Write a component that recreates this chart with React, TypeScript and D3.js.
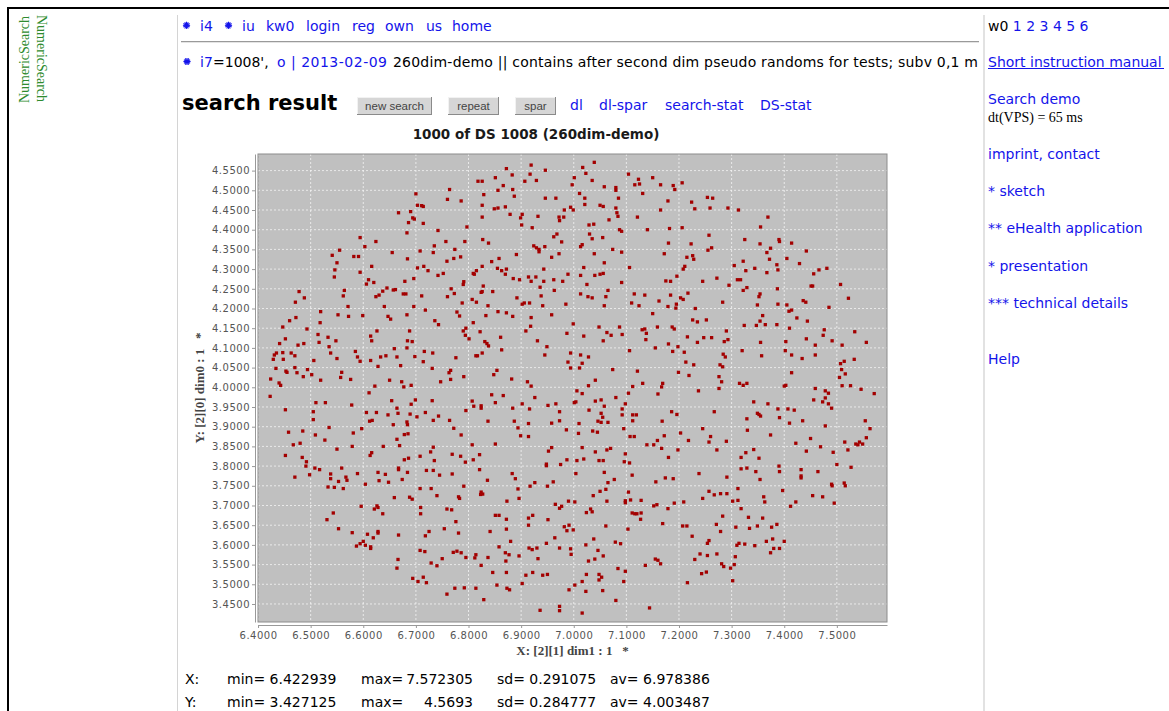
import { useEffect, useRef } from "react";
import * as d3 from "d3";

type Pt = [number, number];

const X_DOMAIN: [number, number] = [6.39994, 7.59529];
const Y_DOMAIN: [number, number] = [3.40428, 4.59215];
const X_TICKS = [6.4, 6.5, 6.6, 6.7, 6.8, 6.9, 7.0, 7.1, 7.2, 7.3, 7.4, 7.5];
const Y_TICKS = [
  3.45, 3.5, 3.55, 3.6, 3.65, 3.7, 3.75, 3.8, 3.85, 3.9, 3.95, 4.0,
  4.05, 4.1, 4.15, 4.2, 4.25, 4.3, 4.35, 4.4, 4.45, 4.5, 4.55,
];

// dots, by region of the plot
const dotsTopLeft: Pt[] = [
  [6.764,4.502],[6.760,4.477],[6.786,4.473],[6.700,4.491],[6.703,4.462],[6.711,4.461],[6.714,4.459],[6.667,4.443],[6.690,4.446],[6.694,4.430],
  [6.697,4.427],[6.686,4.418],[6.714,4.416],[6.797,4.407],[6.742,4.398],[6.683,4.392],[6.594,4.380],[6.624,4.370],[6.757,4.370],[6.793,4.370],
  [6.603,4.357],[6.555,4.348],[6.735,4.359],[6.708,4.346],[6.655,4.342],[6.733,4.342],[6.774,4.350],[6.541,4.335],[6.582,4.332],[6.591,4.332],
  [6.785,4.331],[6.772,4.327],[6.759,4.320],[6.550,4.316],[6.684,4.326],[6.616,4.307],[6.703,4.303],[6.715,4.307],[6.723,4.296],[6.546,4.298],
  [6.752,4.289],[6.742,4.284],[6.594,4.292],[6.545,4.280],[6.696,4.276],[6.610,4.273],[6.679,4.269],[6.606,4.262],[6.620,4.266],[6.791,4.268],
  [6.790,4.261],[6.767,4.250],[6.645,4.252],[6.661,4.248],[6.657,4.247],[6.564,4.246],[6.637,4.244],[6.478,4.243],[6.773,4.238],[6.676,4.237],
  [6.681,4.237],[6.630,4.234],[6.624,4.230],[6.562,4.232],[6.488,4.227],[6.711,4.232],[6.760,4.230],[6.471,4.216],[6.788,4.214],[6.571,4.205],
  [6.640,4.205],[6.696,4.205],[6.718,4.196],[6.519,4.192],[6.778,4.191],[6.783,4.181],[6.683,4.184],[6.552,4.184],[6.572,4.180],[6.599,4.182],
  [6.472,4.177],[6.647,4.180],[6.652,4.173],[6.460,4.169],[6.736,4.169],[6.743,4.159],[6.518,4.164],[6.447,4.153],[6.493,4.148],[6.626,4.143],
  [6.688,4.143],[6.795,4.150],[6.790,4.143],[6.794,4.132],[6.514,4.134],[6.614,4.130],[6.533,4.127],[6.616,4.118],[6.548,4.118],[6.684,4.118],
  [6.693,4.116],[6.452,4.123],[6.441,4.111],[6.516,4.114],[6.487,4.111],[6.476,4.107],[6.535,4.103],[6.659,4.098],[6.683,4.100],[6.435,4.087],
  [6.431,4.082],[6.447,4.088],[6.463,4.087],[6.470,4.080],[6.538,4.087],[6.585,4.091],[6.716,4.091],[6.732,4.087],[6.589,4.077],[6.633,4.077],
  [6.643,4.080],[6.664,4.077],[6.698,4.078],[6.429,4.071],[6.448,4.071],[6.550,4.073],[6.776,4.075],[6.594,4.066],[6.614,4.068],[6.506,4.068],
  [6.714,4.065],[6.671,4.055],[6.434,4.048],[6.470,4.050],[6.494,4.045],[6.628,4.053],[6.731,4.048],[6.453,4.041],[6.455,4.038],[6.474,4.037],
  [6.559,4.038],[6.766,4.043],[6.763,4.037],[6.486,4.027],[6.502,4.032],[6.557,4.025],[6.791,4.027],[6.424,4.021],[6.519,4.018],[6.576,4.020],
  [6.650,4.018],[6.673,4.014],[6.747,4.014],[6.766,4.020],[6.440,4.011],[6.443,4.005],[6.622,4.003],[6.677,4.001],[6.691,4.005],
];

const dotsTopMiddle: Pt[] = [
  [6.872,4.555],[6.919,4.564],[6.946,4.551],[7.017,4.558],[7.039,4.571],[7.023,4.543],[6.883,4.539],[6.851,4.532],[6.917,4.541],[6.818,4.523],
  [6.826,4.523],[6.907,4.523],[6.929,4.525],[7.001,4.532],[7.035,4.525],[7.104,4.541],[7.123,4.528],[7.150,4.532],[7.116,4.514],[7.125,4.516],
  [7.165,4.514],[7.189,4.512],[7.192,4.502],[6.866,4.512],[6.856,4.500],[6.884,4.502],[6.997,4.514],[7.058,4.509],[7.080,4.507],[7.080,4.500],
  [6.829,4.489],[6.887,4.485],[6.946,4.480],[6.966,4.480],[7.011,4.492],[7.021,4.480],[7.085,4.480],[7.131,4.492],[7.179,4.473],[6.826,4.462],
  [6.849,4.453],[6.856,4.455],[6.870,4.458],[7.021,4.464],[6.994,4.457],[6.999,4.450],[6.982,4.450],[7.050,4.462],[7.056,4.459],[7.080,4.455],
  [7.082,4.443],[7.084,4.434],[7.165,4.450],[6.879,4.439],[6.902,4.439],[6.899,4.430],[6.932,4.434],[6.972,4.432],[6.981,4.432],[6.973,4.423],
  [6.826,4.432],[7.121,4.432],[7.067,4.425],[6.901,4.412],[6.921,4.405],[7.029,4.412],[7.038,4.414],[7.087,4.400],[7.091,4.396],[7.140,4.400],
  [7.182,4.403],[6.968,4.389],[6.962,4.382],[7.030,4.389],[7.035,4.377],[7.055,4.380],[6.827,4.375],[6.838,4.366],[6.977,4.369],[7.180,4.366],
  [6.924,4.359],[6.929,4.354],[6.934,4.350],[6.934,4.344],[6.945,4.357],[7.016,4.362],[7.013,4.357],[7.074,4.350],[7.091,4.343],[6.891,4.337],
  [6.972,4.339],[7.039,4.339],[6.958,4.330],[7.172,4.339],[6.858,4.327],[6.844,4.319],[7.058,4.316],[6.826,4.307],[7.106,4.304],[7.019,4.304],
  [6.815,4.296],[6.809,4.289],[6.811,4.287],[6.855,4.302],[6.863,4.296],[6.872,4.300],[6.870,4.287],[6.943,4.300],[6.989,4.287],[7.013,4.284],
  [7.040,4.284],[7.050,4.287],[7.056,4.289],[6.885,4.276],[6.897,4.273],[6.914,4.280],[6.919,4.269],[6.928,4.280],[6.943,4.269],[6.962,4.273],
  [6.979,4.269],[7.025,4.261],[7.091,4.266],[7.175,4.270],[7.184,4.269],[7.196,4.282],[6.828,4.257],[6.826,4.243],[6.824,4.241],[6.846,4.243],
  [6.936,4.254],[6.963,4.246],[7.065,4.246],[6.807,4.223],[6.815,4.216],[6.892,4.227],[6.906,4.214],[6.902,4.211],[6.916,4.214],[6.938,4.232],
  [7.013,4.237],[7.027,4.230],[7.035,4.227],[7.061,4.230],[7.115,4.237],[7.135,4.234],[7.162,4.219],[7.184,4.234],[7.195,4.211],[7.194,4.201],
  [7.110,4.214],[7.124,4.207],[7.179,4.205],[6.837,4.207],[6.941,4.207],[6.985,4.211],[7.058,4.207],[6.833,4.182],[6.856,4.192],[6.872,4.189],
  [6.884,4.180],[6.919,4.177],[6.958,4.184],[7.150,4.187],[6.809,4.164],[6.918,4.155],[6.999,4.161],[7.048,4.153],[7.087,4.153],[7.130,4.146],
  [7.135,4.148],[7.159,4.153],[7.187,4.153],[7.191,4.148],[6.822,4.141],[6.909,4.143],[6.987,4.137],[7.063,4.139],[7.071,4.132],[7.092,4.134],
  [7.138,4.137],[6.801,4.123],[6.861,4.127],[7.019,4.130],[7.056,4.118],[7.137,4.121],[6.831,4.116],[6.835,4.111],[6.838,4.105],[6.863,4.095],
  [6.931,4.118],[6.949,4.103],[7.106,4.093],[7.155,4.100],[7.180,4.110],[7.198,4.103],[7.188,4.091],[6.814,4.080],[6.817,4.080],[6.826,4.087],
  [6.945,4.082],[6.994,4.087],[7.013,4.082],[7.028,4.077],[6.989,4.064],[7.016,4.061],[6.994,4.049],[7.011,4.049],[7.074,4.045],[6.854,4.043],
  [6.848,4.032],[7.121,4.041],[6.882,4.021],[6.912,4.014],[6.919,4.003],[7.028,4.004],[7.041,4.018],[7.112,4.002],[7.131,4.010],[7.169,4.010],
  [7.167,4.001],
];

const dotsTopRight: Pt[] = [
  [7.206,4.519],[7.224,4.470],[7.230,4.453],[7.254,4.482],[7.264,4.480],[7.259,4.455],[7.293,4.455],[7.313,4.450],[7.369,4.432],[7.206,4.405],
  [7.355,4.407],[7.257,4.386],[7.223,4.364],[7.325,4.375],[7.354,4.364],[7.390,4.375],[7.391,4.370],[7.414,4.366],[7.374,4.353],[7.255,4.348],
  [7.262,4.354],[7.367,4.342],[7.442,4.346],[7.226,4.334],[7.215,4.330],[7.228,4.325],[7.322,4.320],[7.372,4.325],[7.405,4.327],[7.429,4.314],
  [7.305,4.309],[7.386,4.311],[7.211,4.307],[7.208,4.300],[7.344,4.302],[7.327,4.296],[7.388,4.298],[7.481,4.302],[7.466,4.298],[7.456,4.288],
  [7.367,4.291],[7.272,4.277],[7.245,4.269],[7.311,4.273],[7.317,4.273],[7.295,4.259],[7.329,4.253],[7.322,4.246],[7.387,4.250],[7.451,4.257],
  [7.454,4.257],[7.507,4.261],[7.203,4.227],[7.208,4.223],[7.217,4.239],[7.354,4.237],[7.352,4.230],[7.283,4.216],[7.436,4.220],[7.441,4.216],
  [7.522,4.226],[7.349,4.209],[7.388,4.211],[7.405,4.209],[7.231,4.200],[7.414,4.196],[7.409,4.193],[7.485,4.203],[7.359,4.182],[7.226,4.171],
  [7.235,4.166],[7.252,4.171],[7.354,4.168],[7.424,4.176],[7.444,4.168],[7.324,4.157],[7.347,4.157],[7.364,4.159],[7.386,4.159],[7.410,4.150],
  [7.290,4.143],[7.476,4.146],[7.474,4.132],[7.534,4.141],[7.216,4.128],[7.247,4.126],[7.262,4.126],[7.235,4.114],[7.286,4.116],[7.293,4.121],
  [7.355,4.114],[7.403,4.116],[7.442,4.123],[7.491,4.118],[7.556,4.114],[7.459,4.107],[7.510,4.107],[7.210,4.089],[7.320,4.093],[7.402,4.093],
  [7.414,4.082],[7.459,4.082],[7.284,4.084],[7.288,4.077],[7.357,4.080],[7.434,4.073],[7.533,4.071],[7.514,4.066],[7.213,4.064],[7.228,4.057],
  [7.278,4.057],[7.283,4.052],[7.507,4.060],[7.509,4.045],[7.199,4.038],[7.219,4.030],[7.414,4.037],[7.516,4.034],[7.276,4.027],[7.281,4.014],
  [7.505,4.025],[7.315,4.010],[7.322,4.005],[7.329,4.010],[7.400,4.003],[7.403,4.005],[7.510,4.004],[7.526,4.004],
];

const dotsBottomLeft: Pt[] = [
  [6.423,3.977],[6.611,3.986],[6.510,3.961],[6.528,3.961],[6.578,3.955],[6.654,3.966],[6.699,3.968],[6.691,3.957],[6.731,3.966],[6.452,3.943],
  [6.505,3.938],[6.606,3.936],[6.625,3.936],[6.664,3.947],[6.666,3.934],[6.689,3.932],[6.718,3.936],[6.647,3.930],[6.702,3.925],[6.743,3.927],
  [6.795,3.941],[6.505,3.918],[6.612,3.914],[6.617,3.916],[6.683,3.912],[6.684,3.905],[6.657,3.905],[6.733,3.916],[6.764,3.916],[6.535,3.898],
  [6.597,3.895],[6.772,3.896],[6.458,3.886],[6.485,3.889],[6.509,3.879],[6.581,3.884],[6.678,3.880],[6.685,3.882],[6.786,3.879],[6.664,3.868],
  [6.527,3.866],[6.480,3.858],[6.467,3.854],[6.579,3.850],[6.638,3.850],[6.669,3.852],[6.550,3.843],[6.733,3.848],[6.728,3.836],[6.616,3.834],
  [6.613,3.827],[6.452,3.827],[6.484,3.822],[6.492,3.811],[6.708,3.825],[6.686,3.820],[6.678,3.816],[6.735,3.814],[6.769,3.830],[6.785,3.825],
  [6.794,3.810],[6.491,3.800],[6.508,3.795],[6.517,3.791],[6.559,3.795],[6.667,3.795],[6.667,3.791],[6.720,3.789],[6.733,3.789],[6.628,3.784],
  [6.642,3.779],[6.684,3.784],[6.745,3.777],[6.769,3.780],[6.470,3.772],[6.498,3.778],[6.538,3.780],[6.538,3.768],[6.567,3.772],[6.569,3.764],
  [6.553,3.761],[6.589,3.781],[6.630,3.763],[6.648,3.759],[6.674,3.766],[6.533,3.747],[6.545,3.746],[6.562,3.743],[6.604,3.754],[6.708,3.743],
  [6.729,3.743],[6.791,3.749],[6.740,3.725],[6.659,3.720],[6.688,3.721],[6.693,3.716],[6.781,3.722],[6.783,3.718],[6.596,3.698],[6.626,3.699],
  [6.628,3.695],[6.621,3.691],[6.709,3.695],[6.759,3.691],[6.768,3.689],[6.543,3.681],[6.637,3.679],[6.709,3.679],[6.531,3.664],[6.776,3.659],
  [6.553,3.641],[6.579,3.631],[6.608,3.627],[6.628,3.634],[6.628,3.630],[6.619,3.618],[6.667,3.625],[6.725,3.634],[6.718,3.623],[6.754,3.641],
  [6.781,3.630],[6.600,3.609],[6.594,3.603],[6.587,3.597],[6.604,3.599],[6.614,3.595],[6.614,3.591],[6.708,3.586],[6.717,3.583],[6.771,3.581],
  [6.778,3.584],[6.786,3.580],[6.795,3.568],[6.666,3.563],[6.750,3.565],[6.729,3.554],[6.740,3.547],[6.664,3.541],[6.694,3.515],[6.704,3.507],
  [6.714,3.518],[6.720,3.504],[6.774,3.490],[6.792,3.491],[6.759,3.475],
];

const dotsBottomMiddle: Pt[] = [
  [6.844,3.981],[6.866,3.979],[6.807,3.965],[6.810,3.952],[6.824,3.953],[6.824,3.947],[6.851,3.961],[6.884,3.947],[6.902,3.958],[6.926,3.974],
  [6.916,3.945],[6.951,3.954],[6.966,3.958],[6.973,3.938],[7.006,3.991],[7.016,3.984],[7.001,3.961],[7.004,3.963],[7.041,3.965],[7.052,3.968],
  [7.058,3.952],[7.029,3.942],[7.080,3.974],[7.098,3.958],[7.092,3.945],[7.104,3.985],[7.160,3.983],[7.186,3.938],[7.196,3.931],[7.092,3.930],
  [7.112,3.930],[7.119,3.930],[7.112,3.915],[7.168,3.914],[7.052,3.934],[7.055,3.924],[7.046,3.914],[7.052,3.911],[7.065,3.911],[7.010,3.908],
  [6.958,3.909],[6.973,3.915],[6.914,3.908],[6.887,3.914],[6.837,3.914],[6.894,3.897],[6.986,3.892],[7.009,3.883],[7.036,3.889],[7.045,3.886],
  [7.095,3.895],[6.899,3.877],[6.914,3.875],[7.107,3.875],[7.115,3.875],[7.172,3.877],[7.159,3.865],[7.139,3.854],[7.152,3.854],[7.167,3.845],
  [7.198,3.841],[6.807,3.854],[6.851,3.856],[7.016,3.847],[6.958,3.847],[6.952,3.838],[7.041,3.836],[7.063,3.841],[7.070,3.845],[7.098,3.831],
  [7.180,3.822],[6.821,3.829],[6.809,3.816],[6.987,3.816],[7.006,3.814],[7.019,3.818],[7.048,3.814],[7.056,3.814],[7.096,3.811],[7.106,3.808],
  [6.948,3.805],[6.948,3.801],[6.975,3.804],[6.821,3.791],[7.004,3.781],[7.058,3.784],[6.883,3.781],[6.889,3.768],[6.836,3.764],[7.111,3.777],
  [7.077,3.766],[7.065,3.758],[7.156,3.760],[7.174,3.770],[7.189,3.768],[6.917,3.749],[6.926,3.758],[6.950,3.749],[6.961,3.760],[6.894,3.742],
  [6.824,3.734],[6.823,3.728],[6.827,3.729],[6.896,3.718],[6.873,3.711],[7.037,3.725],[7.050,3.736],[7.061,3.741],[7.104,3.734],[7.098,3.712],
  [7.098,3.707],[7.108,3.714],[7.128,3.713],[7.063,3.711],[6.990,3.711],[7.002,3.709],[6.965,3.703],[6.977,3.698],[6.973,3.693],[7.032,3.691],
  [7.035,3.684],[7.024,3.682],[7.152,3.699],[7.158,3.702],[7.179,3.692],[7.191,3.706],[6.851,3.675],[6.858,3.675],[6.872,3.665],[6.914,3.668],
  [6.922,3.675],[6.951,3.664],[7.111,3.681],[7.116,3.679],[7.120,3.679],[7.128,3.681],[7.127,3.665],[7.169,3.654],[7.061,3.648],[7.103,3.640],
  [6.982,3.646],[6.991,3.650],[6.987,3.636],[6.999,3.638],[6.914,3.650],[6.872,3.640],[6.841,3.634],[6.880,3.609],[6.964,3.618],[6.948,3.604],
  [6.915,3.592],[6.921,3.588],[6.930,3.592],[6.973,3.592],[6.994,3.590],[6.995,3.576],[7.023,3.600],[7.038,3.615],[7.046,3.586],[7.056,3.572],
  [7.079,3.607],[7.089,3.603],[6.858,3.595],[6.870,3.580],[6.877,3.575],[6.814,3.575],[6.812,3.567],[6.837,3.568],[6.896,3.572],[6.871,3.559],
  [6.932,3.565],[7.028,3.559],[7.040,3.564],[7.155,3.564],[7.160,3.561],[7.165,3.552],[6.824,3.548],[7.136,3.548],[7.084,3.540],[7.098,3.533],
  [6.846,3.530],[6.872,3.530],[6.909,3.523],[6.922,3.530],[6.941,3.523],[6.950,3.525],[7.024,3.525],[7.048,3.525],[7.053,3.518],[7.048,3.511],
  [7.095,3.507],[7.016,3.507],[6.814,3.490],[6.854,3.498],[6.873,3.490],[6.878,3.486],[6.902,3.502],[7.002,3.498],[6.991,3.486],[7.023,3.482],
  [7.055,3.484],[6.829,3.461],[7.080,3.459],[6.936,3.434],[6.973,3.444],[6.973,3.433],[7.016,3.427],[7.144,3.440],
];

const dotsBottomRight: Pt[] = [
  [7.237,3.991],[7.276,3.997],[7.459,3.997],[7.478,3.991],[7.484,3.985],[7.546,3.995],[7.571,3.984],[7.456,3.968],[7.473,3.963],[7.478,3.973],
  [7.484,3.958],[7.490,3.947],[7.342,3.963],[7.369,3.958],[7.388,3.945],[7.407,3.945],[7.419,3.942],[7.267,3.938],[7.329,3.920],[7.349,3.934],
  [7.352,3.931],[7.355,3.927],[7.391,3.923],[7.410,3.909],[7.435,3.915],[7.478,3.902],[7.554,3.915],[7.563,3.895],[7.245,3.895],[7.203,3.884],
  [7.218,3.865],[7.260,3.875],[7.257,3.861],[7.290,3.863],[7.272,3.841],[7.330,3.891],[7.374,3.879],[7.422,3.858],[7.450,3.870],[7.469,3.849],
  [7.442,3.838],[7.493,3.835],[7.515,3.861],[7.521,3.841],[7.536,3.856],[7.540,3.854],[7.543,3.861],[7.549,3.856],[7.556,3.872],[7.342,3.842],
  [7.327,3.834],[7.318,3.822],[7.352,3.820],[7.390,3.800],[7.391,3.786],[7.432,3.791],[7.432,3.775],[7.432,3.770],[7.464,3.786],[7.500,3.804],
  [7.527,3.797],[7.238,3.781],[7.291,3.772],[7.318,3.793],[7.329,3.795],[7.346,3.786],[7.354,3.766],[7.397,3.738],[7.312,3.743],[7.490,3.754],
  [7.491,3.750],[7.514,3.757],[7.516,3.750],[7.454,3.725],[7.473,3.722],[7.495,3.706],[7.422,3.709],[7.412,3.698],[7.257,3.736],[7.267,3.727],
  [7.279,3.730],[7.291,3.730],[7.245,3.718],[7.209,3.709],[7.302,3.711],[7.312,3.713],[7.361,3.722],[7.363,3.709],[7.318,3.692],[7.283,3.673],
  [7.332,3.670],[7.359,3.668],[7.207,3.648],[7.215,3.648],[7.271,3.652],[7.308,3.645],[7.334,3.642],[7.349,3.648],[7.376,3.645],[7.386,3.652],
  [7.279,3.634],[7.225,3.622],[7.257,3.611],[7.254,3.604],[7.310,3.599],[7.314,3.604],[7.325,3.602],[7.344,3.598],[7.366,3.609],[7.378,3.615],
  [7.400,3.609],[7.380,3.591],[7.391,3.591],[7.374,3.580],[7.240,3.577],[7.230,3.563],[7.254,3.573],[7.272,3.577],[7.307,3.570],[7.281,3.552],
  [7.285,3.545],[7.298,3.541],[7.305,3.550],[7.243,3.527],[7.252,3.531],[7.302,3.509],[7.216,3.504],
];

const STAT_AXES = ["X:", "Y:"];
const STAT_MIN = ["6.422939", "3.427125"];
const STAT_MAX = ["7.572305", "4.5693"];
const STAT_SD = ["0.291075", "0.284777"];
const STAT_AV = ["6.978386", "4.003487"];

const NAV_LINKS = ["i4", "iu", "kw0", "login", "reg", "own", "us", "home"];
const NAV_X = [200, 242, 266, 306, 352, 385, 426, 452];
const BUTTONS = ["new search", "repeat", "spar"];
const BUTTON_X = [357, 448, 515];
const BUTTON_W = [75, 51, 41];
const RESULT_LINKS = ["dl", "dl-spar", "search-stat", "DS-stat"];
const RESULT_X = [570, 599, 665, 760];
const SIDE_LINKS = ["* sketch", "** eHealth application", "* presentation", "*** technical details"];
const SIDE_Y = [196, 233, 270.5, 307.5];

const PLOT = { left: 258, top: 154, right: 887, bottom: 622 };
const AXIS_GAP = 3;
const SANS = "'DejaVu Sans', Verdana, sans-serif";
const SERIF = "'Liberation Serif', 'Times New Roman', serif";
const BLUE = "#1414ea";

// small blue burst used in front of some links
function Burst({ cx, cy }: { cx: number; cy: number }) {
  const angles = d3.range(0, 180, 30);
  return (
    <g stroke={BLUE} strokeWidth={1.1}>
      {angles.map((a) => {
        const r = 3.6;
        const dx = r * Math.cos((a * Math.PI) / 180);
        const dy = r * Math.sin((a * Math.PI) / 180);
        return <line key={a} x1={cx - dx} y1={cy - dy} x2={cx + dx} y2={cy + dy} />;
      })}
      <circle cx={cx} cy={cy} r={1.8} fill={BLUE} stroke="none" />
    </g>
  );
}

function Scatter() {
  const gRef = useRef<SVGGElement>(null);

  useEffect(() => {
    if (!gRef.current) return;
    const g = d3.select(gRef.current);
    g.selectAll("*").remove();

    const x = d3.scaleLinear().domain(X_DOMAIN).range([PLOT.left, PLOT.right]);
    const y = d3.scaleLinear().domain(Y_DOMAIN).range([PLOT.bottom, PLOT.top]);

    g.append("rect")
      .attr("x", PLOT.left)
      .attr("y", PLOT.top)
      .attr("width", PLOT.right - PLOT.left)
      .attr("height", PLOT.bottom - PLOT.top)
      .attr("fill", "#c0c0c0");

    // grid
    g.append("g")
      .selectAll("line")
      .data(X_TICKS)
      .join("line")
      .attr("x1", (d) => x(d))
      .attr("x2", (d) => x(d))
      .attr("y1", PLOT.top)
      .attr("y2", PLOT.bottom)
      .attr("stroke", "#f4f4f4")
      .attr("stroke-width", 0.8)
      .attr("stroke-dasharray", "2,2");

    g.append("g")
      .selectAll("line")
      .data(Y_TICKS)
      .join("line")
      .attr("x1", PLOT.left)
      .attr("x2", PLOT.right)
      .attr("y1", (d) => y(d))
      .attr("y2", (d) => y(d))
      .attr("stroke", "#f4f4f4")
      .attr("stroke-width", 0.8)
      .attr("stroke-dasharray", "2,2");

    // dots
    const dots = [
      ...dotsTopLeft, ...dotsTopMiddle, ...dotsTopRight,
      ...dotsBottomLeft, ...dotsBottomMiddle, ...dotsBottomRight,
    ];
    const s = 3.3;
    g.append("g")
      .selectAll("rect")
      .data(dots)
      .join("rect")
      .attr("x", (d) => x(d[0]) - s / 2)
      .attr("y", (d) => y(d[1]) - s / 2)
      .attr("width", s)
      .attr("height", s)
      .attr("fill", "#a30000");

    // outline
    g.append("rect")
      .attr("x", PLOT.left)
      .attr("y", PLOT.top)
      .attr("width", PLOT.right - PLOT.left)
      .attr("height", PLOT.bottom - PLOT.top)
      .attr("fill", "none")
      .attr("stroke", "#8c8c8c")
      .attr("stroke-width", 1);

    const fmt = d3.format(".4f");
    const styleAxis = (sel: d3.Selection<SVGGElement, unknown, null, undefined>) => {
      sel.attr("font-family", SANS).attr("font-size", 10).attr("letter-spacing", 0.5);
      sel.select(".domain").attr("stroke", "#999");
      sel.selectAll(".tick line").attr("stroke", "#999");
      sel.selectAll(".tick text").attr("fill", "#555");
    };

    g.append("g")
      .attr("transform", `translate(${PLOT.left - AXIS_GAP},0)`)
      .call(d3.axisLeft(y).tickValues(Y_TICKS).tickFormat((d) => fmt(d as number)).tickSize(3).tickSizeOuter(0).tickPadding(2))
      .call(styleAxis);

    g.append("g")
      .attr("transform", `translate(0,${PLOT.bottom + AXIS_GAP})`)
      .call(d3.axisBottom(x).tickValues(X_TICKS).tickFormat((d) => fmt(d as number)).tickSize(3).tickSizeOuter(0).tickPadding(4))
      .call(styleAxis);
  }, []);

  return <g ref={gRef} />;
}

export default function App() {
  return (
    <div style={{ position: "absolute", left: 0, top: 0 }}>
      <svg width={1169} height={711} style={{ display: "block", background: "#fff" }}>
        <defs>
          <clipPath id="mainCell">
            <rect x={178} y={0} width={801} height={711} />
          </clipPath>
        </defs>

        {/* frame */}
        <line x1={7} x2={1169} y1={8} y2={8} stroke="#000" strokeWidth={2} />
        <line x1={8} x2={8} y1={7} y2={711} stroke="#000" strokeWidth={2} />
        <line x1={177.5} x2={177.5} y1={15} y2={711} stroke="#d4d4d4" strokeWidth={1} />
        <line x1={984} x2={984} y1={15} y2={711} stroke="#e2e2e2" strokeWidth={2} />

        {/* logo */}
        <g fontFamily={SERIF} fontSize={14} fill="#2e8b2e">
          <text transform="translate(28.5,103) rotate(-90)">NumericSearch</text>
          <text transform="translate(36.5,15) rotate(90)">NumericSearch</text>
        </g>

        {/* top nav */}
        <Burst cx={186.5} cy={25.3} />
        <Burst cx={228.5} cy={25.3} />
        <g fontFamily={SANS} fontSize={14} fill={BLUE}>
          {NAV_LINKS.map((t, i) => (
            <text key={t} x={NAV_X[i]} y={30.5}>{t}</text>
          ))}
        </g>
        <line x1={181} x2={979} y1={41.5} y2={41.5} stroke="#9a9a9a" strokeWidth={1} />
        <line x1={181} x2={979} y1={42.5} y2={42.5} stroke="#e4e4e4" strokeWidth={1} />

        {/* data-set line */}
        <Burst cx={187} cy={61.5} />
        <g fontFamily={SANS} fontSize={14} clipPath="url(#mainCell)">
          <text x={200} y={66.5} fill={BLUE}>i7</text>
          <text x={213} y={66.5} fill="#000">=1008',</text>
          <text x={277} y={66.5} fill={BLUE} textLength={110} lengthAdjust="spacing">o | 2013-02-09</text>
          <text x={393} y={66.5} fill="#000" textLength={585} lengthAdjust="spacing">
            260dim-demo || contains after second dim pseudo randoms for tests; subv 0,1 m
          </text>
        </g>

        {/* result header */}
        <text x={182} y={110} fontFamily={SANS} fontSize={21} fontWeight="bold" fill="#000">search result</text>
        {BUTTONS.map((b, i) => (
          <g key={b}>
            <rect x={BUTTON_X[i]} y={97} width={BUTTON_W[i]} height={18} fill="#d6d6d6" />
            <line x1={BUTTON_X[i]} x2={BUTTON_X[i] + BUTTON_W[i]} y1={97.5} y2={97.5} stroke="#f2f2f2" />
            <line x1={BUTTON_X[i] + 0.5} x2={BUTTON_X[i] + 0.5} y1={97} y2={115} stroke="#f2f2f2" />
            <line x1={BUTTON_X[i]} x2={BUTTON_X[i] + BUTTON_W[i]} y1={114.5} y2={114.5} stroke="#8a8a8a" />
            <line x1={BUTTON_X[i] + BUTTON_W[i] - 0.5} x2={BUTTON_X[i] + BUTTON_W[i] - 0.5} y1={97} y2={115} stroke="#8a8a8a" />
            <text
              x={BUTTON_X[i] + BUTTON_W[i] / 2}
              y={110}
              textAnchor="middle"
              fontFamily="'Liberation Sans', Arial, sans-serif"
              fontSize={11.5}
              fill="#444"
            >
              {b}
            </text>
          </g>
        ))}
        <g fontFamily={SANS} fontSize={14} fill={BLUE}>
          {RESULT_LINKS.map((t, i) => (
            <text key={t} x={RESULT_X[i]} y={110}>{t}</text>
          ))}
        </g>

        {/* chart */}
        <text x={536} y={139} textAnchor="middle" fontFamily={SANS} fontSize={13.5} fontWeight="bold" fill="#1a1a1a">
          1000 of DS 1008 (260dim-demo)
        </text>
        <Scatter />
        <text x={572.5} y={655} textAnchor="middle" fontFamily={SERIF} fontSize={13} fontWeight="bold" fill="#444">
          {"X: [2][1] dim1 : 1\u00a0\u00a0\u00a0*"}
        </text>
        <text
          transform={`translate(204,${(PLOT.top + PLOT.bottom) / 2}) rotate(-90)`}
          textAnchor="middle"
          fontFamily={SERIF}
          fontSize={13}
          fontWeight="bold"
          fill="#444"
        >
          {"Y: [2][0] dim0 : 1\u00a0\u00a0\u00a0*"}
        </text>

        {/* stats */}
        <g fontFamily={SANS} fontSize={14} fill="#000">
          {STAT_AXES.map((a, i) => {
            const yy = 683.5 + i * 23;
            return (
              <g key={a}>
                <text x={185} y={yy}>{a}</text>
                <text x={227} y={yy}>{`min= ${STAT_MIN[i]}`}</text>
                <text x={361} y={yy}>max=</text>
                <text x={473} y={yy} textAnchor="end">{STAT_MAX[i]}</text>
                <text x={497} y={yy}>{`sd= ${STAT_SD[i]}`}</text>
                <text x={610} y={yy}>{`av= ${STAT_AV[i]}`}</text>
              </g>
            );
          })}
        </g>

        {/* sidebar */}
        <g fontFamily={SANS} fontSize={14}>
          <text x={988} y={30.5} fill="#000">
            w0 <tspan fill={BLUE}>1 2 3 4 5 6</tspan>
          </text>
          <text x={988} y={66.5} fill={BLUE}>Short instruction manual</text>
          <line x1={988} x2={1164} y1={68.5} y2={68.5} stroke={BLUE} strokeWidth={1} />
          <text x={988} y={104} fill={BLUE}>Search demo</text>
          <text x={988} y={121.5} fill="#000" fontFamily={SERIF}>dt(VPS) = 65 ms</text>
          <text x={988} y={159} fill={BLUE}>imprint, contact</text>
          {SIDE_LINKS.map((t, i) => (
            <text key={t} x={988} y={SIDE_Y[i]} fill={BLUE}>{t}</text>
          ))}
          <text x={988} y={364} fill={BLUE}>Help</text>
        </g>
      </svg>
    </div>
  );
}
